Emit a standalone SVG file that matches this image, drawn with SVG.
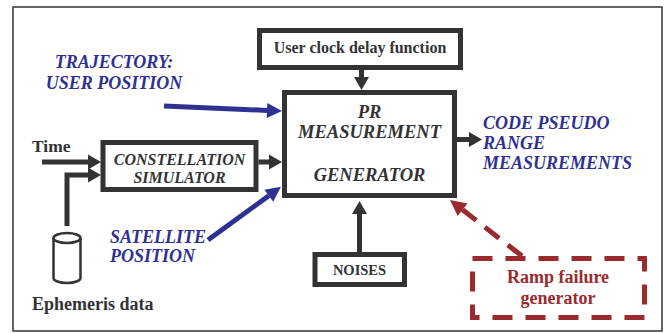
<svg xmlns="http://www.w3.org/2000/svg" width="668" height="333" viewBox="0 0 668 333">
<style>
.box{fill:#fff;stroke:#333336;stroke-width:5}
.t{font-family:"Liberation Serif","Times New Roman",serif;font-weight:bold;fill:#333336}
.ti{font-family:"Liberation Serif","Times New Roman",serif;font-weight:bold;font-style:italic;fill:#333336}
.blue{font-family:"Liberation Serif","Times New Roman",serif;font-weight:bold;font-style:italic;fill:#2e3192;font-size:18px}
.red{font-family:"Liberation Serif","Times New Roman",serif;font-weight:bold;fill:#9a2a2e;font-size:18px}
.k{fill:none;stroke:#333336;stroke-width:5}
.b{fill:none;stroke:#2e3192;stroke-width:5}
</style>
<defs>
<marker id="ak" markerUnits="userSpaceOnUse" markerWidth="14" markerHeight="16" refX="0" refY="7.5" orient="auto" overflow="visible"><path d="M0,0 L13,7.5 L0,15 z" fill="#333336"/></marker>
<marker id="ab" markerUnits="userSpaceOnUse" markerWidth="16" markerHeight="16" refX="0" refY="7.5" orient="auto" overflow="visible"><path d="M0,0 L15,7.5 L0,15 z" fill="#2e3192"/></marker>
<marker id="ar" markerUnits="userSpaceOnUse" markerWidth="17" markerHeight="16" refX="0" refY="8" orient="auto" overflow="visible"><path d="M0,0 L16,8 L0,16 z" fill="#9a2a2e"/></marker>
</defs>
<rect x="13" y="7" width="649" height="324" fill="#fff" stroke="#333336" stroke-width="1.5"/>
<g id="connectors">
<path class="k" d="M42,162 H88" marker-end="url(#ak)"/>
<path class="k" d="M67,226 V175 H88" marker-end="url(#ak)"/>
<path class="k" d="M258.5,162 H269" marker-end="url(#ak)"/>
<path class="k" d="M361.5,70 V77" marker-end="url(#ak)"/>
<path class="k" d="M457,139.5 H469" marker-end="url(#ak)"/>
<path class="k" d="M359.5,252 V214" marker-end="url(#ak)"/>
<path class="b" d="M164,106 L267,110.4" marker-end="url(#ab)"/>
<path class="b" d="M208,240 L268.8,195.7" marker-end="url(#ab)"/>
<path d="M522,256 L462.6,209.8" fill="none" stroke="#9a2a2e" stroke-width="5" stroke-dasharray="18 11" marker-end="url(#ar)"/>
</g>
<g id="user-clock">
<rect class="box" x="259.5" y="30.5" width="201" height="37"/>
<text class="t" x="360" y="53" font-size="16" text-anchor="middle">User clock delay function</text>
</g>
<g id="pr-generator">
<rect class="box" x="284.5" y="92.5" width="170" height="103"/>
<text class="ti" x="369.5" y="118" font-size="18.5" text-anchor="middle">PR</text>
<text class="ti" x="369.5" y="138" font-size="18.5" text-anchor="middle">MEASUREMENT</text>
<text class="ti" x="369.5" y="181" font-size="18.5" text-anchor="middle">GENERATOR</text>
</g>
<g id="constellation">
<rect class="box" x="103" y="142.5" width="153" height="47"/>
<text class="ti" x="179.5" y="165" font-size="16" text-anchor="middle">CONSTELLATION</text>
<text class="ti" x="179.5" y="183" font-size="16" text-anchor="middle">SIMULATOR</text>
</g>
<g id="noises">
<rect class="box" x="315" y="254.5" width="89.5" height="30"/>
<text class="t" x="359.5" y="275" font-size="14.5" text-anchor="middle">NOISES</text>
</g>
<g id="ramp-failure">
<rect x="472.5" y="258.5" width="172" height="59" fill="none" stroke="#9a2a2e" stroke-width="5" stroke-dasharray="20 13"/>
<text class="red" x="558" y="283" text-anchor="middle">Ramp failure</text>
<text class="red" x="558" y="304" text-anchor="middle">generator</text>
</g>
<g id="ephemeris">
<path d="M53.5,238 V278 A13.5,5 0 0 0 80.5,278 V238" fill="#fff" stroke="#333336" stroke-width="2.5"/>
<ellipse cx="67" cy="238" rx="13.5" ry="5" fill="#fff" stroke="#333336" stroke-width="2.5"/>
<text class="t" x="32" y="310" font-size="18">Ephemeris data</text>
</g>
<g id="labels">
<text class="t" x="32" y="152" font-size="17.5">Time</text>
<text class="blue" x="114" y="68" text-anchor="middle">TRAJECTORY:</text>
<text class="blue" x="114" y="89" text-anchor="middle">USER POSITION</text>
<text class="blue" x="110" y="243" font-size="16.5">SATELLITE</text>
<text class="blue" x="110" y="262" font-size="16.5">POSITION</text>
<text class="blue" x="483" y="129">CODE PSEUDO</text>
<text class="blue" x="483" y="149">RANGE</text>
<text class="blue" x="483" y="169">MEASUREMENTS</text>
</g>
</svg>
